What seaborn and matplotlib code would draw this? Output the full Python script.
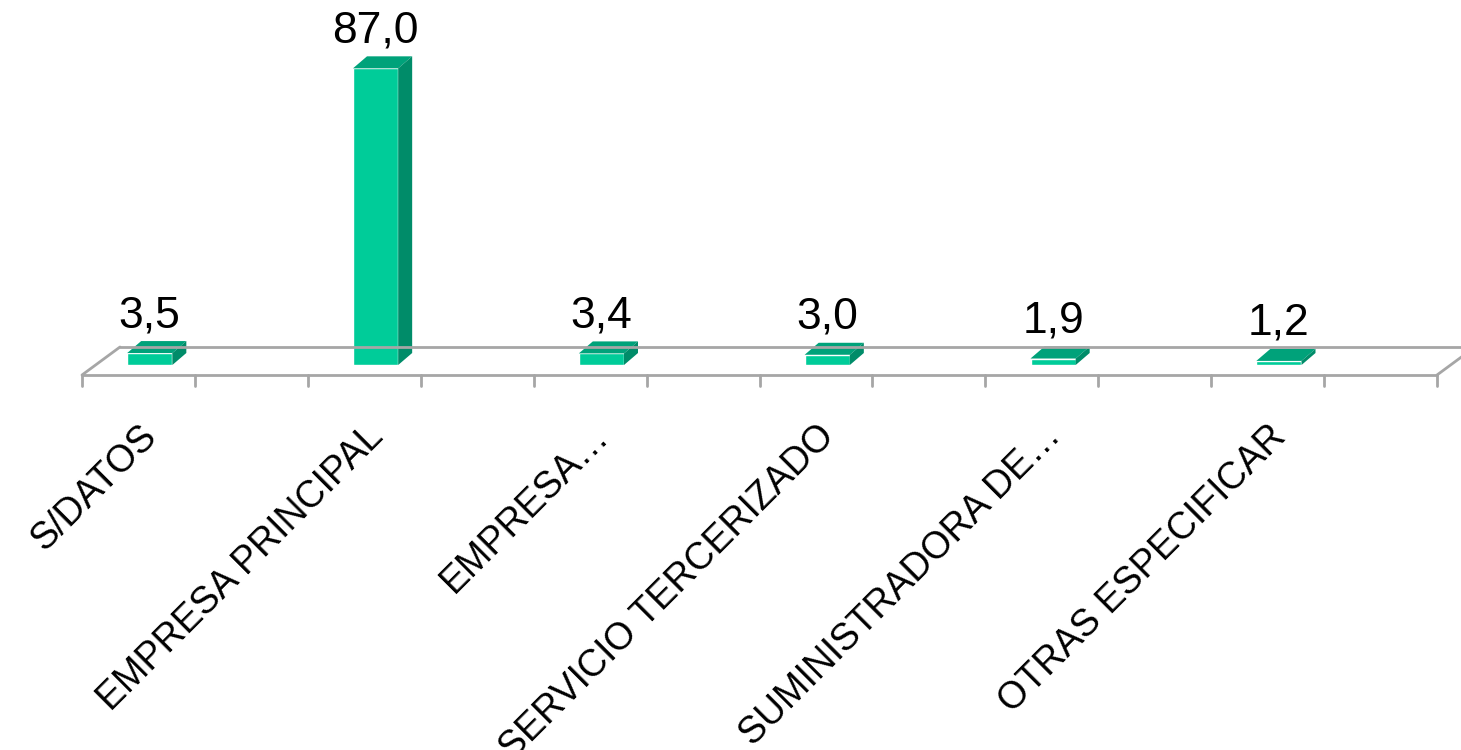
import matplotlib
matplotlib.use("Agg")
import matplotlib.pyplot as plt
from matplotlib.patches import Polygon
import seaborn as sns

# Data
categories = ["S/DATOS", "EMPRESA PRINCIPAL", "EMPRESA…", "SERVICIO TERCERIZADO",
              "SUMINISTRADORA DE…", "OTRAS ESPECIFICAR"]
values = [3.5, 87.0, 3.4, 3.0, 1.9, 1.2]

FRONT = "#00cc99"
TOP = "#00a27a"
SIDE = "#008c69"
FLOOR = "#a6a6a6"

sns.set_style("white")
plt.rcParams["font.family"] = ["Liberation Sans", "DejaVu Sans"]
plt.rcParams["text.color"] = "black"

fig = plt.figure(figsize=(14.61, 7.5), dpi=100)
ax = fig.add_axes([82 / 1461, 385 / 750, 1355 / 1461, 341 / 750])

sns.barplot(x=categories, y=values, color=FRONT, width=0.2, saturation=1, ax=ax)
ax.set_xlim(-0.3, 5.7)
ax.set_ylim(0, 100)
ax.set_axis_off()

# 3D look: top and side faces of each bar (pixel offsets)
bdx, bdy = 14, 12
to_px = ax.transData
for p in ax.patches:
    x0, x1 = p.get_x(), p.get_x() + p.get_width()
    h = p.get_height()
    (px0, py0), (px1, py1) = to_px.transform([(x0, 0), (x1, h)])
    top = [(px0, py1), (px1, py1), (px1 + bdx, py1 + bdy), (px0 + bdx, py1 + bdy)]
    side = [(px1, py0), (px1, py1), (px1 + bdx, py1 + bdy), (px1 + bdx, py0 + bdy)]
    fig.patches.append(Polygon(top, closed=True, fc=TOP, ec="none", transform=None))
    fig.patches.append(Polygon(side, closed=True, fc=SIDE, ec="none", transform=None))
    label = f"{h:.1f}".replace(".", ",")
    ax.annotate(label, (p.get_x() + p.get_width() / 2, h), xytext=(0, bdy + 5),
                textcoords="offset pixels", ha="center", va="bottom", fontsize=32,
                color="black")

# Floor: front edge, back edge and sides (in pixels)
(fx0, fy), (fx1, _) = to_px.transform([(-0.3, 0), (5.7, 0)])
fy = fy - 10
fdx, fdy = 38, 28
floor_lines = [
    [(fx0, fy), (fx1, fy)],
    [(fx0 + fdx, fy + fdy), (fx1 + fdx, fy + fdy)],
    [(fx0, fy), (fx0 + fdx, fy + fdy)],
    [(fx1, fy), (fx1 + fdx, fy + fdy)],
]
for seg in floor_lines:
    xs, ys = zip(*seg)
    fig.add_artist(plt.Line2D(xs, ys, color=FLOOR, lw=2, transform=None))

# Tick marks every half category
for k in range(13):
    tx = to_px.transform([(-0.3 + 0.5 * k, 0)])[0][0]
    fig.add_artist(plt.Line2D([tx, tx], [fy, fy - 11], color=FLOOR, lw=2, transform=None))

# Category labels, rotated
for i, cat in enumerate(categories):
    lx, ly = to_px.transform([(i, 0)])[0]
    fig.text(lx + 2, ly - 66, cat, rotation=45, ha="right", va="center",
             rotation_mode="anchor", fontsize=27, color="black", transform=None)

fig.savefig("out.png", dpi=100, facecolor="white")
